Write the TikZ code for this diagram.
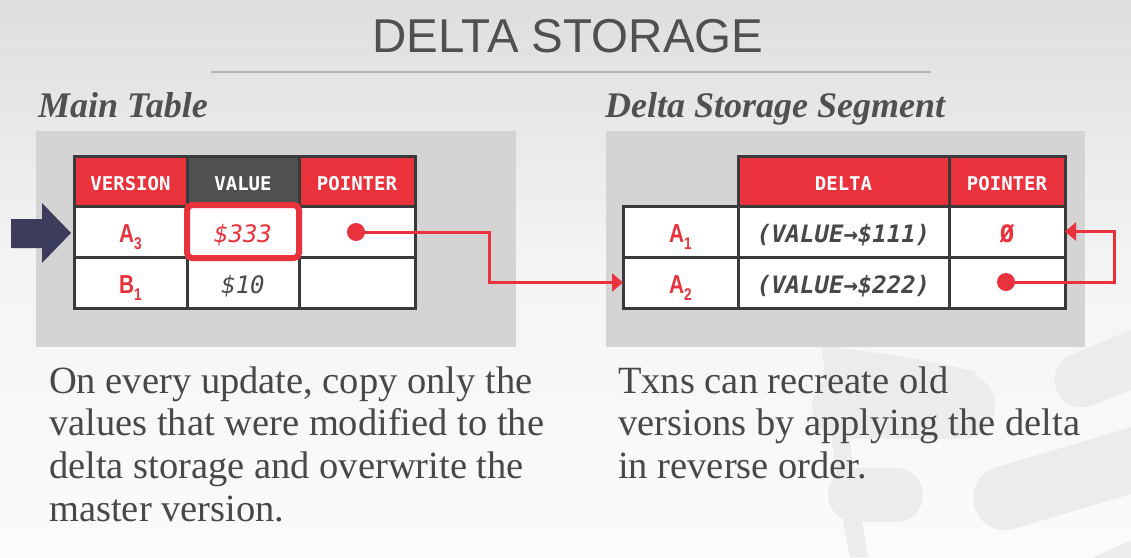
\documentclass[tikz,border=0pt]{standalone}
\usepackage{fontspec}
\usetikzlibrary{arrows.meta}
\newfontfamily\titlefont{Liberation Sans}
\newfontfamily\serifface{Liberation Serif}
\newfontfamily\monoface{DejaVu Sans Mono}
\newfontfamily\verface{Liberation Sans}[FakeStretch=0.8]
\definecolor{dbred}{RGB}{234,50,60}
\definecolor{dbdark}{RGB}{80,80,80}
\definecolor{dbline}{RGB}{58,58,58}
\definecolor{dbpanel}{RGB}{212,212,212}
\definecolor{dbtext}{RGB}{72,72,72}
\definecolor{dbnavy}{RGB}{60,60,92}
\definecolor{dbwm}{RGB}{236,236,236}
\definecolor{dbrule}{RGB}{180,180,180}
\definecolor{bgtop}{RGB}{222,222,222}
\definecolor{bgmid}{RGB}{245,245,245}
\definecolor{bgbot}{RGB}{251,251,251}
\newcommand\vsub[1]{\raisebox{-7pt}[0pt][0pt]{\fontsize{17}{17}\selectfont #1}}
\begin{document}
\begin{tikzpicture}[x=1pt,y=-1pt,
  cell/.style={draw=dbline, line width=3pt, fill=white, inner sep=0pt, outer sep=0pt,
    anchor=north west, minimum height=51pt, text height=22pt, text depth=0pt},
  hcell/.style={cell, fill=dbred, text=white, minimum height=50pt, text height=19pt,
    font=\monoface\bfseries\fontsize{19}{19}\selectfont},
  vercell/.style={cell, text=dbred, font=\verface\bfseries\fontsize{26}{26}\selectfont},
  valcell/.style={cell, font=\monoface\itshape\fontsize{24}{24}\selectfont},
  deltacell/.style={cell, text=dbtext, font=\monoface\bfseries\itshape\fontsize{24}{24}\selectfont},
  dot/.style={circle, fill=dbred, minimum size=18pt, inner sep=0pt},
  link/.style={draw=dbred, line width=3pt, -{Triangle[length=11pt,width=18pt]}},
  heading/.style={anchor=base west, inner sep=0pt, text=dbdark,
    font=\serifface\bfseries\itshape\fontsize{36}{36}\selectfont},
  body/.style={anchor=base west, inner sep=0pt, text=dbtext,
    font=\serifface\fontsize{38.5}{42}\selectfont},
  wm/.style={draw=dbwm, line cap=round}
]
\useasboundingbox (0,0) rectangle (1131,557);
\clip (0,0) rectangle (1131,557);
% background
\shade[top color=bgtop, bottom color=bgbot, middle color=bgmid] (0,0) rectangle (1131,557);
% watermark
\fill[dbwm] (822,347) .. controls (832,450) and (840,510) .. (850,557) -- (868,557) .. controls (858,500) and (848,440) .. (840,347) -- cycle;
\fill[dbwm] (826,347) .. controls (880,352) and (940,362) .. (975,372) -- (975,400) -- (830,400) -- cycle;
\draw[wm, line width=66pt] (845,406) -- (962,406);
\draw[wm, line width=54pt] (855,495) -- (896,495);
\draw[wm, line width=55pt] (1082,380) -- (1150,352);
\draw[wm, line width=64pt] (1005,498) -- (1150,455);
\draw[wm, line width=60pt] (1105,585) -- (1150,565);
% title
\node[anchor=base, inner sep=0pt, text=dbdark, font=\titlefont\fontsize{47.5}{47.5}\selectfont] (title) at (568,52) {DELTA STORAGE};
\draw[dbrule, line width=2.5pt] (211,72) -- (931,72);
% headings
\node[heading] (h1) at (38,117) {Main Table};
\node[heading] (h2) at (605,117) {Delta Storage Segment};
% panels
\fill[dbpanel] (36,131) rectangle (516,347);
\fill[dbpanel] (606,131) rectangle (1085,347);
% left table
\node[hcell, minimum width=113pt] (th1) at (74,156) {VERSION};
\node[hcell, minimum width=112pt, fill=dbdark] (th2) at (187,156) {VALUE};
\node[hcell, minimum width=116pt] (th3) at (299,156) {POINTER};
\node[vercell, minimum width=113pt] (a3) at (74,206) {A\vsub{3}};
\node[valcell, minimum width=112pt, text=dbred] (v1) at (187,206) {\$333};
\node[cell, minimum width=116pt] (p3) at (299,206) {};
\node[vercell, minimum width=113pt] (b1) at (74,257) {B\vsub{1}};
\node[valcell, minimum width=112pt, text=dbtext] (v2) at (187,257) {\$10};
\node[cell, minimum width=116pt] (pb) at (299,257) {};
\node[draw=dbred, line width=6pt, rounded corners=5pt, minimum width=112pt, minimum height=53pt, inner sep=0pt] (hl) at (243,231.5) {};
% main arrow
\fill[dbnavy] (11,219) -- (42,219) -- (42,203) -- (71,233) -- (42,263) -- (42,248) -- (11,248) -- cycle;
% right table
\node[hcell, minimum width=211pt] (dh1) at (738,156) {DELTA};
\node[hcell, minimum width=116pt] (dh2) at (949,156) {POINTER};
\node[vercell, minimum width=115pt] (a1) at (623,206) {A\vsub{1}};
\node[deltacell, minimum width=211pt] (d1) at (738,206) {(VALUE→\$111)};
\node[cell, minimum width=116pt, text=dbred, font=\monoface\bfseries\fontsize{24}{24}\selectfont] (q1) at (949,206) {Ø};
\node[vercell, minimum width=115pt] (a2) at (623,257) {A\vsub{2}};
\node[deltacell, minimum width=211pt] (d2) at (738,257) {(VALUE→\$222)};
\node[cell, minimum width=116pt] (q2) at (949,257) {};
% dots and links
\node[dot] (dotA) at (356,232) {};
\node[dot] (dotB) at (1006,282) {};
\coordinate (bendA) at (489,282.5);
\coordinate (bendB) at (1114,231.5);
\draw[link] (dotA.center) -| (bendA) -- (a2.west);
\draw[link] (dotB.center) -| (bendB) -- (q1.east);
% body text
\node[body] (l1) at (49,393) {On every update, copy only the};
\node[body] (l2) at (49,435) {values that were modified to the};
\node[body] (l3) at (49,478) {delta storage and overwrite the};
\node[body] (l4) at (49,521) {master version.};
\node[body] (r1) at (618,393) {Txns can recreate old};
\node[body] (r2) at (618,435) {versions by applying the delta};
\node[body] (r3) at (618,478) {in reverse order.};
\end{tikzpicture}
\end{document}
